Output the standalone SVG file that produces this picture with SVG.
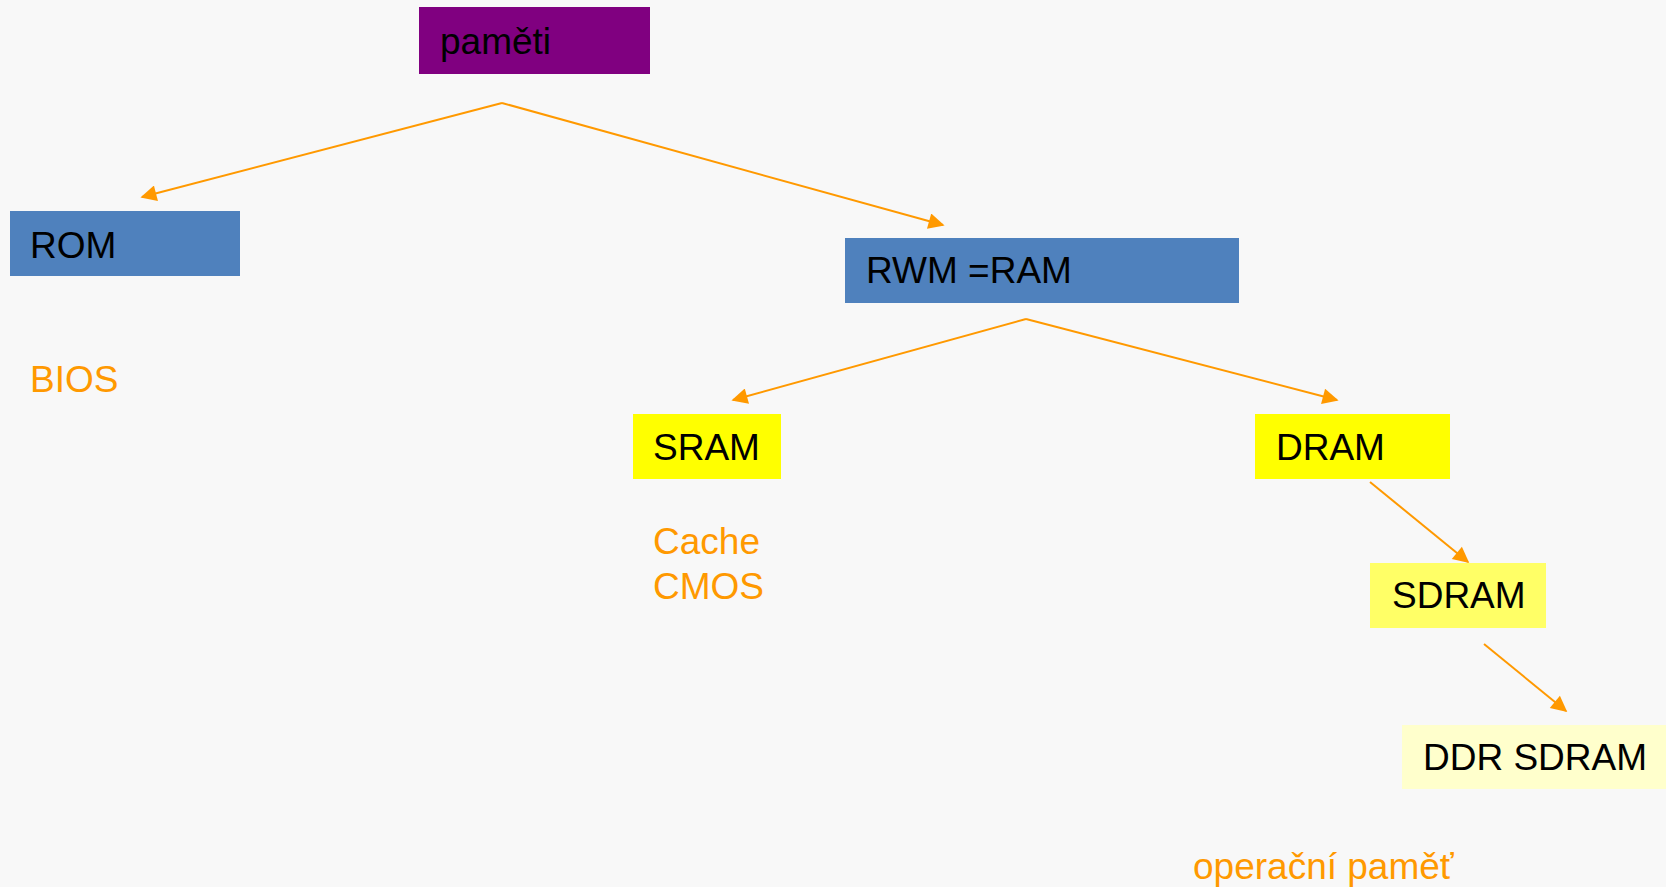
<svg xmlns="http://www.w3.org/2000/svg" width="1666" height="887" viewBox="0 0 1666 887">
<defs>
<marker id="arr" viewBox="0 0 10 10" refX="9" refY="5" markerWidth="9" markerHeight="8" orient="auto" markerUnits="strokeWidth">
<path d="M0,0 L10,5 L0,10 z" fill="#FF9900"/>
</marker>
</defs>
<style>
.lbl{font-family:"Liberation Sans",Arial,sans-serif;font-size:37px;fill:#000}
.note{font-family:"Liberation Sans",Arial,sans-serif;font-size:37px;fill:#FF9900}
.conn line{stroke:#FF9900;stroke-width:2;fill:none;marker-end:url(#arr)}
</style>
<rect width="1666" height="887" fill="#f8f8f8"/>
<g id="connectors" class="conn">
<line x1="502" y1="103" x2="142" y2="197"/>
<line x1="502" y1="103" x2="943" y2="225"/>
<line x1="1026" y1="319" x2="733" y2="400"/>
<line x1="1026" y1="319" x2="1337" y2="400"/>
<line x1="1370" y1="482" x2="1468" y2="562"/>
<line x1="1484" y1="644" x2="1566" y2="711"/>
</g>
<g id="pameti">
<rect x="419" y="7" width="231" height="67" fill="#800080"/>
<text class="lbl" x="440" y="54">paměti</text>
</g>
<g id="rom">
<rect x="10" y="211" width="230" height="65" fill="#4F81BD"/>
<text class="lbl" x="30" y="258">ROM</text>
</g>
<g id="bios">
<text class="note" x="30" y="392">BIOS</text>
</g>
<g id="rwm">
<rect x="845" y="238" width="394" height="65" fill="#4F81BD"/>
<text class="lbl" x="866" y="283">RWM =RAM</text>
</g>
<g id="sram">
<rect x="633" y="414" width="148" height="65" fill="#FFFF00"/>
<text class="lbl" x="653" y="460">SRAM</text>
</g>
<g id="cache">
<text class="note" x="653" y="554">Cache</text>
<text class="note" x="653" y="599">CMOS</text>
</g>
<g id="dram">
<rect x="1255" y="414" width="195" height="65" fill="#FFFF00"/>
<text class="lbl" x="1276" y="460">DRAM</text>
</g>
<g id="sdram">
<rect x="1370" y="563" width="176" height="65" fill="#FFFF66"/>
<text class="lbl" x="1392" y="608">SDRAM</text>
</g>
<g id="ddr">
<rect x="1402" y="725" width="264" height="64" fill="#FFFFCC"/>
<text class="lbl" x="1423" y="770">DDR SDRAM</text>
</g>
<g id="operacni">
<text class="note" x="1193" y="879">operační paměť</text>
</g>
</svg>
